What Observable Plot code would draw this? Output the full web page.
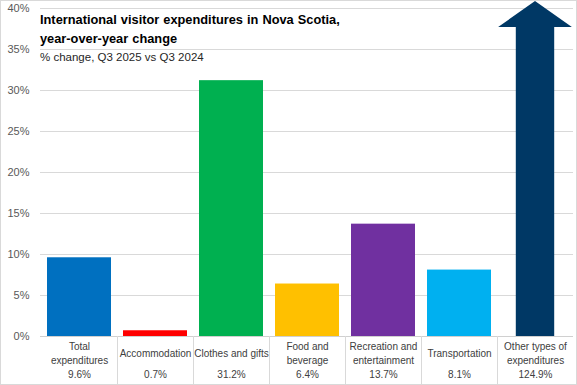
<!DOCTYPE html>
<html><head><meta charset="utf-8">
<script src="https://cdn.jsdelivr.net/npm/d3@7"></script>
<script src="https://cdn.jsdelivr.net/npm/@observablehq/plot@0.6"></script>
<style>
html,body{margin:0;padding:0;background:#fff;}
#wrap{position:relative;width:577px;height:385px;overflow:hidden;}
#frame{position:absolute;left:0;top:0;width:575px;height:383px;border:1px solid #d9d9d9;pointer-events:none;}
#title{position:absolute;left:40px;top:10px;font:bold 12.8px "Liberation Sans",Arial,sans-serif;line-height:19px;color:#000;word-spacing:0.5px;}
#subtitle{position:absolute;left:40px;top:51px;font:11.5px "Liberation Sans",Arial,sans-serif;color:#262626;}
</style></head><body>
<div id="wrap"><div id="chart"></div>
<div id="title">International visitor expenditures in Nova Scotia,<br>year-over-year change</div>
<div id="subtitle">% change, Q3 2025 vs Q3 2024</div>
<div id="frame"></div></div>
<script>
const categories = ["Total expenditures","Accommodation","Clothes and gifts","Food and beverage","Recreation and entertainment","Transportation","Other types of expenditures"];
const labelLines = [["Total","expenditures"],["Accommodation"],["Clothes and gifts"],["Food and","beverage"],["Recreation and","entertainment"],["Transportation"],["Other types of","expenditures"]];
const values = [9.6, 0.7, 31.2, 6.4, 13.7, 8.1, 124.9];
const colors = ["#0070C0","#FF0000","#00B050","#FFC000","#7030A0","#00B0F0","#003865"];
const yTicks = [0, 5, 10, 15, 20, 25, 30, 35, 40];
const yMax = 40;

const rows = categories.map((c, i) => ({category: c, value: values[i], lines: labelLines[i], off: values[i] > yMax}));

function arrowMark(index, scales, vals, dims) {
  const x = scales.x, y = scales.y;
  const bw = x.bandwidth(), step = x.step();
  const g = d3.create("svg:g");
  for (const r of rows.filter(d => d.off)) {
    const cx = x(r.category) + bw / 2;
    const y0 = y(0), yTop = y(yMax);
    const tip = yTop - 7, shoulder = yTop + 19;
    const bodyHalf = bw * 0.3, headHalf = step * 0.485;
    const pts = [[cx - bodyHalf, y0], [cx - bodyHalf, shoulder], [cx - headHalf, shoulder], [cx, tip],
                 [cx + headHalf, shoulder], [cx + bodyHalf, shoulder], [cx + bodyHalf, y0]];
    g.append("path").attr("d", "M" + pts.map(p => p.join(",")).join("L") + "Z")
      .attr("fill", colors[categories.indexOf(r.category)]);
  }
  return g.node();
}

function tableMark(index, scales, vals, dims) {
  const x = scales.x, y = scales.y;
  const bw = x.bandwidth(), step = x.step();
  const g = d3.create("svg:g").attr("stroke", "#d9d9d9");
  categories.slice(1).forEach(c => {
    const bx = Math.round(x(c) - (step - bw) / 2) + 0.5;
    g.append("line").attr("x1", bx).attr("x2", bx).attr("y1", y(0)).attr("y2", dims.height);
  });
  return g.node();
}

const chart = Plot.plot({
  width: 577, height: 385,
  marginLeft: 40, marginRight: 4, marginTop: 8, marginBottom: 49,
  style: {fontFamily: "'Liberation Sans', Arial, sans-serif", background: "transparent"},
  x: {domain: categories, paddingInner: 0.16, paddingOuter: 0.08, axis: null},
  y: {domain: [0, yMax], axis: null},
  color: {domain: categories, range: colors},
  marks: [
    Plot.gridY(yTicks.filter(t => t > 0), {stroke: "#d9d9d9", strokeOpacity: 1}),
    Plot.axisY(yTicks, {tickSize: 0, tickPadding: 11, tickFormat: d => d + "%", fontSize: 11, fill: "#595959", label: null}),
    Plot.barY(rows.filter(d => !d.off), {x: "category", y: "value", fill: "category"}),
    arrowMark,
    Plot.ruleY([0], {stroke: "#d0d0d0"}),
    tableMark,
    Plot.text(rows, {x: "category", y: 0, text: d => d.lines.join("\n"), dy: 16, lineHeight: 1.45, lineAnchor: "middle", fontSize: 10, fill: "#404040"}),
    Plot.text(rows, {x: "category", y: 0, text: d => d.value.toFixed(1) + "%", dy: 38, lineAnchor: "middle", fontSize: 10, fill: "#404040"})
  ]
});
document.getElementById("chart").appendChild(chart);
</script>
</body></html>
